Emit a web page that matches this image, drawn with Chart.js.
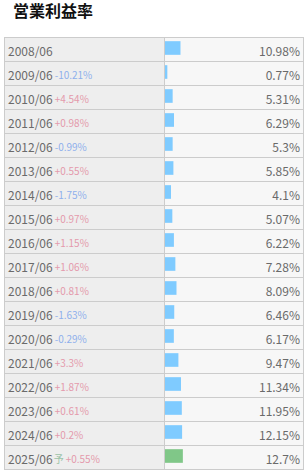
<!DOCTYPE html>
<html>
<head>
<meta charset="utf-8">
<script src="https://cdn.jsdelivr.net/npm/chart.js@4"></script>
<style>
  body { margin: 0; background: #fff; width: 307px; height: 475px; position: relative; overflow: hidden;
         font-family: "Noto Sans CJK JP", "Noto Sans", sans-serif; }
  #title { position: absolute; left: 13px; top: -2px; font-size: 16px; font-weight: bold; color: #111; }
  #tbl { position: absolute; left: 4px; top: 37px; width: 298px; border: 1px solid #ccc; }
  .row { display: flex; height: 23px; border-top: 1px solid #ccc; }
  .row:first-child { border-top: none; }
  .lab { width: 156px; padding-left: 3px; background: #eee; border-right: 1px solid #ccc;
         display: flex; align-items: flex-end; font-size: 12px; color: #6a6a6a; white-space: nowrap; }
  .lab span { line-height: 20px; }
  .chg { font-size: 10px; margin-left: 2px; }
  .up { color: #e49aac; }
  .down { color: #8fb0ec; }
  .fc { color: #9cc3a8; font-size: 10px; margin-left: 1px; }
  .val { flex: 1; background: #f7f7f7; text-align: right; padding-right: 3px; font-size: 12px; color: #6a6a6a;
         display: flex; align-items: flex-end; justify-content: flex-end; }
  .val span { line-height: 20px; }
  #wrap { position: absolute; left: 165px; top: 36px; width: 138px; height: 432px; pointer-events: none; }
</style>
</head>
<body>
<div id="title">営業利益率</div>
<div id="tbl"></div>
<div id="wrap"><canvas id="barChart"></canvas></div>
<script>
const periods = ['2008/06', '2009/06', '2010/06', '2011/06', '2012/06', '2013/06', '2014/06', '2015/06', '2016/06',
  '2017/06', '2018/06', '2019/06', '2020/06', '2021/06', '2022/06', '2023/06', '2024/06', '2025/06'];
const margins = [10.98, 0.77, 5.31, 6.29, 5.3, 5.85, 4.1, 5.07, 6.22, 7.28, 8.09, 6.46, 6.17, 9.47, 11.34, 11.95, 12.15, 12.7];
const changes = [null, -10.21, 4.54, 0.98, -0.99, 0.55, -1.75, 0.97, 1.15, 1.06, 0.81, -1.63, -0.29, 3.3, 1.87, 0.61, 0.2, 0.55];
const forecast = [false, false, false, false, false, false, false, false, false, false, false, false, false, false, false, false, false, true];

const tbl = document.getElementById('tbl');
periods.forEach((p, i) => {
  const row = document.createElement('div');
  row.className = 'row';
  let labHtml = '<span>' + p + '</span>';
  if (forecast[i]) labHtml += '<span class="fc">予</span>';
  if (changes[i] !== null) {
    const c = changes[i];
    labHtml += '<span class="chg ' + (c < 0 ? 'down' : 'up') + '">' + (c < 0 ? '-' : '+') + Math.abs(c) + '%</span>';
  }
  row.innerHTML = '<div class="lab">' + labHtml + '</div><div class="val"><span>' + margins[i] + '%</span></div>';
  tbl.appendChild(row);
});

const ctx = document.getElementById('barChart').getContext('2d');
new Chart(ctx, {
  type: 'bar',
  data: {
    labels: periods,
    datasets: [{
      data: margins,
      backgroundColor: forecast.map(f => f ? '#80c788' : '#7fcbff'),
      borderWidth: 0,
      barThickness: 13,
      minBarLength: 2,
    }],
  },
  options: {
    indexAxis: 'y',
    responsive: true,
    maintainAspectRatio: false,
    animation: false,
    layout: { padding: 0 },
    plugins: { legend: { display: false }, tooltip: { enabled: false } },
    scales: {
      x: { display: false, min: 0, max: 100 },
      y: { display: false },
    },
  },
});
</script>
</body>
</html>
